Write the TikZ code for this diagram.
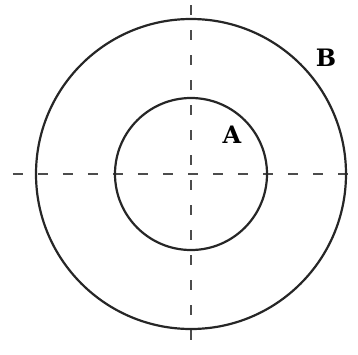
\documentclass[tikz,border=0pt]{standalone}
\usepackage{fontspec}
\newfontfamily\tagfont{DejaVu Serif}
\begin{document}
\begin{tikzpicture}[x=1pt, y=1pt,
    ring/.style={line width=2.2pt, black!85},
    axisline/.style={line width=1.8pt, black!70, dash pattern=on 10pt off 15pt},
    tag/.style={font=\tagfont\fontsize{24}{28}\selectfont\bfseries}]
    \useasboundingbox (-191,-180) rectangle (167,174);
    % Axes
    \draw[axisline] (-178,0) -- (167,0);
    \draw[axisline] (0,169) -- (0,-174);
    % Circles
    \draw[ring] (0,0) circle (76);
    \draw[ring] (0,0) circle (155);
    % Labels
    \node[tag] (labA) at (41,39) {A};
    \node[tag] (labB) at (135,116) {B};
\end{tikzpicture}
\end{document}
